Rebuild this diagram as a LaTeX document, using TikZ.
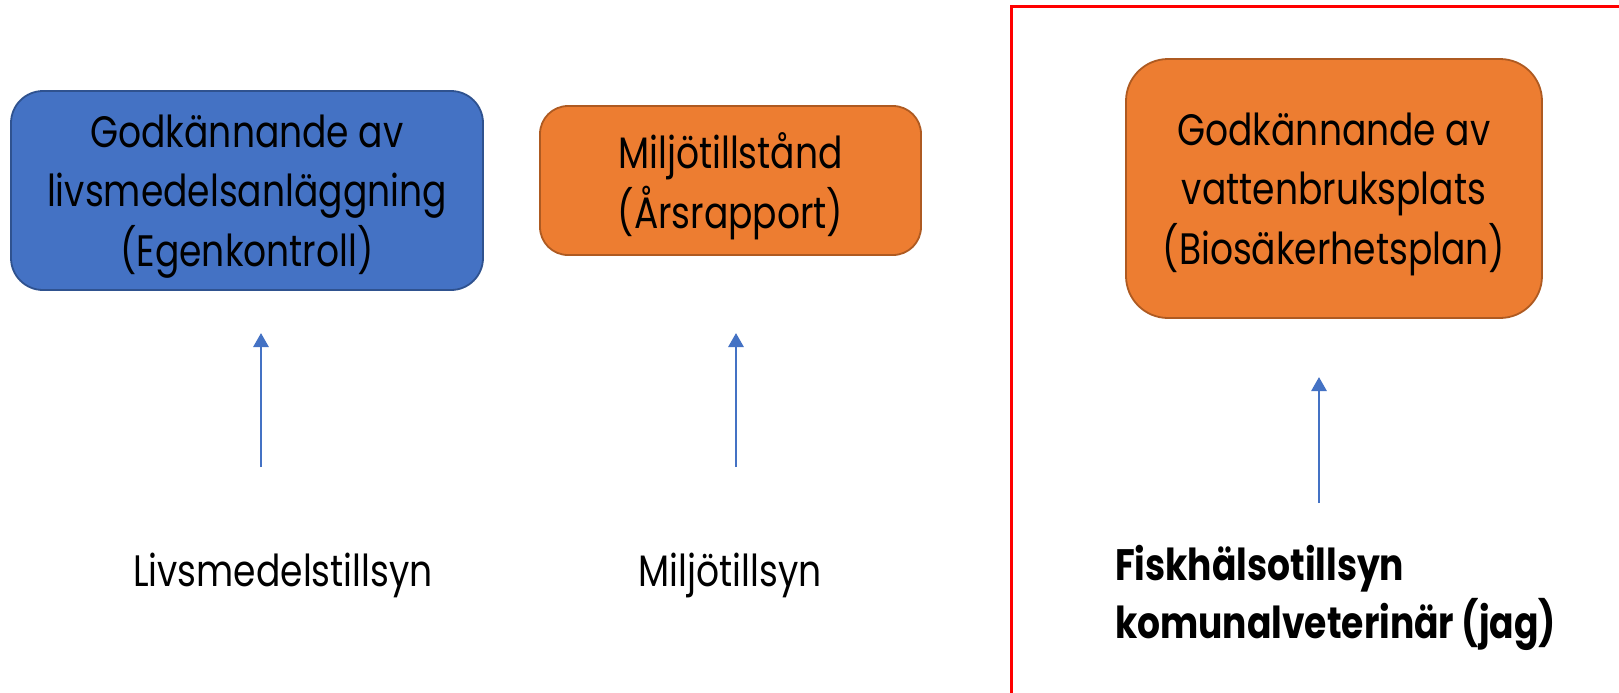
\documentclass[tikz,border=0pt]{standalone}
\usepackage{fontspec}
\setmainfont{Poppins}[FakeStretch=0.82]
\usepackage{xcolor}
\usetikzlibrary{arrows.meta, positioning}
\definecolor{boxblue}{HTML}{4472C4}
\definecolor{boxblueline}{HTML}{2F528F}
\definecolor{boxorange}{HTML}{ED7D31}
\definecolor{boxorangeline}{HTML}{AE5A21}

\begin{document}
\begin{tikzpicture}[x=0.5pt, y=-0.5pt,
    permit/.style={draw, line width=0.9pt, align=center, inner sep=0pt, text depth=0pt,
        font=\fontsize{22}{29.75}\selectfont},
    bluepermit/.style={permit, fill=boxblue, draw=boxblueline},
    orangepermit/.style={permit, fill=boxorange, draw=boxorangeline},
    label/.style={font=\fontsize{22}{29}\selectfont, align=left},
    uparrow/.style={draw=boxblue, line width=1.4pt, -{Triangle[width=7.5pt, length=7pt]}}]
                        \useasboundingbox (0, 0) rectangle (1619, 692);
                        \node[bluepermit, minimum width=236pt, minimum height=99.5pt, rounded corners=16pt]
                            (livs) at (247, 190.5) {Godkännande av\\livsmedelsanläggning\\(Egenkontroll)};
                        \node[orangepermit, minimum width=190.5pt, minimum height=74.5pt, rounded corners=14pt]
                            (milj) at (730.5, 180.5) {Miljötillstånd\\(Årsrapport)};
                        \node[orangepermit, minimum width=208pt, minimum height=129.5pt, rounded corners=21pt]
                            (vatt) at (1334, 188.5) {Godkännande av\\vattenbruksplats\\(Biosäkerhetsplan)};
                        \node[label, anchor=base] (livst) at (283, 586) {Livsmedelstillsyn};
                        \node[label, anchor=base] (miljt) at (730, 586) {Miljötillsyn};
                        \node[label, anchor=base west, font=\fontsize{22}{29}\selectfont\bfseries]
                            (fisk) at (1108, 638) {Fiskhälsotillsyn\\komunalveterinär (jag)};
                        \coordinate (a1) at (261, 467);
                        \coordinate (b1) at (261, 333);
                        \coordinate (a2) at (736, 467);
                        \coordinate (b2) at (736, 333);
                        \coordinate (a3) at (1319, 503);
                        \coordinate (b3) at (1319, 377);
                        \draw[uparrow] (a1) -- (b1);
                        \draw[uparrow] (a2) -- (b2);
                        \draw[uparrow] (a3) -- (b3);
                        \draw[red, line width=1.5pt] (1011, 6) rectangle (1700, 760);
                    \end{tikzpicture}
\end{document}
